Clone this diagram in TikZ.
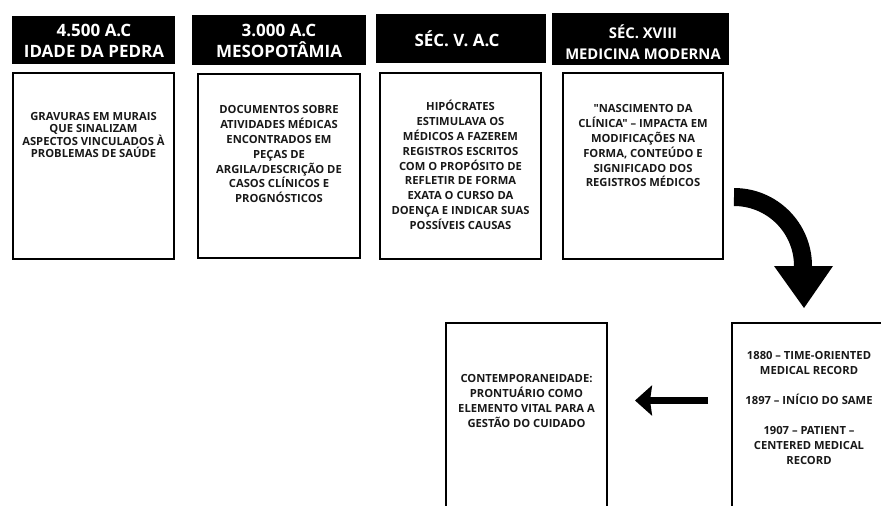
\documentclass[tikz,border=0pt]{standalone}
\usepackage{fontspec}
\setmainfont{Open Sans}[Ligatures=TeXOff]
\usetikzlibrary{arrows.meta}
\tikzset{
  hdrbox/.style={fill=black, inner sep=0pt},
  hdrtxt/.style={text=white, inner sep=0pt, align=center, anchor=base,
    font=\fontsize{17}{21}\selectfont\bfseries},
  card/.style={draw=black, line width=2pt, fill=white, inner sep=0pt},
  bodytxt/.style={anchor=base, align=center, inner sep=0pt, text=black!90,
    font=\fontsize{11.2}{14.8}\selectfont\bfseries},
}
\begin{document}
\begin{tikzpicture}[x=1pt,y=1pt]
\useasboundingbox (0,0) rectangle (881,-506);
\clip (0,0) rectangle (881,-506);
\fill[white] (0,0) rectangle (881,-506);
% headers
\node[hdrbox, minimum width=163pt, minimum height=48pt] (h1) at (93.5,-40) {};
\node[hdrbox, minimum width=174pt, minimum height=50pt] (h2) at (279,-40) {};
\node[hdrbox, minimum width=170pt, minimum height=49pt] (h3) at (461,-38.5) {};
\node[hdrbox, minimum width=177pt, minimum height=52pt] (h4) at (640.5,-39) {};
\node[hdrtxt] (ht1) at (94,-57) {4.500 A.C\\IDADE DA PEDRA};
\node[hdrtxt] (ht2) at (279,-57.5) {3.000 A.C\\MESOPOTÂMIA};
\node[hdrtxt] (ht3) at (457,-46) {SÉC. V. A.C};
\node[hdrtxt, font=\fontsize{14.8}{21}\selectfont\bfseries] (ht4) at (643,-59.3) {SÉC. XVIII\\MEDICINA MODERNA};
% cards
\node[card, minimum width=161pt, minimum height=186pt] (b1) at (93.5,-166) {};
\node[card, minimum width=162pt, minimum height=184pt] (b2) at (279,-166) {};
\node[card, minimum width=161pt, minimum height=186pt] (b3) at (460.5,-166) {};
\node[card, minimum width=160pt, minimum height=186pt] (b4) at (643,-166) {};
\node[card, minimum width=161pt, minimum height=216pt] (b6) at (526.5,-431) {};
\node[card, minimum width=157pt, minimum height=216pt] (b5) at (810.5,-431) {};
% texts (anchor=base is the baseline of the last line)
\node[bodytxt, font=\fontsize{11.2}{11.7}\selectfont\bfseries] (t1) at (93.5,-157.4)
  {GRAVURAS EM MURAIS\\QUE SINALIZAM\\ASPECTOS VINCULADOS À\\PROBLEMAS DE SAÚDE};
\node[bodytxt] (t2) at (279,-202.6)
  {DOCUMENTOS SOBRE\\ATIVIDADES MÉDICAS\\ENCONTRADOS EM\\PEÇAS DE\\ARGILA/DESCRIÇÃO DE\\CASOS CLÍNICOS E\\PROGNÓSTICOS};
\node[bodytxt] (t3) at (460.5,-229.2)
  {HIPÓCRATES\\ESTIMULAVA OS\\MÉDICOS A FAZEREM\\REGISTROS ESCRITOS\\COM O PROPÓSITO DE\\REFLETIR DE FORMA\\EXATA O CURSO DA\\DOENÇA E INDICAR SUAS\\POSSÍVEIS CAUSAS};
\node[bodytxt] (t4) at (643,-186.8)
  {"NASCIMENTO DA\\CLÍNICA" – IMPACTA EM\\MODIFICAÇÕES NA\\FORMA, CONTEÚDO E\\SIGNIFICADO DOS\\REGISTROS MÉDICOS};
\node[bodytxt, font=\fontsize{11.2}{15}\selectfont\bfseries] (t5) at (809,-464.8)
  {1880 – TIME-ORIENTED\\MEDICAL RECORD\\[15pt]1897 – INÍCIO DO SAME\\[15pt]1907 – PATIENT –\\CENTERED MEDICAL\\RECORD};
\node[bodytxt, font=\fontsize{11.2}{15}\selectfont\bfseries] (t6) at (526.5,-427.8)
  {CONTEMPORANEIDADE:\\PRONTUÁRIO COMO\\ELEMENTO VITAL PARA A\\GESTÃO DO CUIDADO};
% curved arrow from the last top card towards the first bottom card
\coordinate (cs) at (734,-197);
\coordinate (ce) at (803,-266);
\coordinate (hl) at (774,-266);
\coordinate (hr) at (833,-266);
\coordinate (ht) at (804,-308);
\draw[line width=18pt] (cs) arc[start angle=90, end angle=0, radius=69pt] -- ([yshift=-2pt]ce);
\fill (hl) -- (hr) -- (ht) -- cycle;
% left arrow
\coordinate (la) at (708,-400.5);
\coordinate (lb) at (635,-400.5);
\draw[line width=7.5pt, -{Stealth[length=17pt, width=30pt, inset=2pt]}] (la) -- (lb);
\end{tikzpicture}
\end{document}
